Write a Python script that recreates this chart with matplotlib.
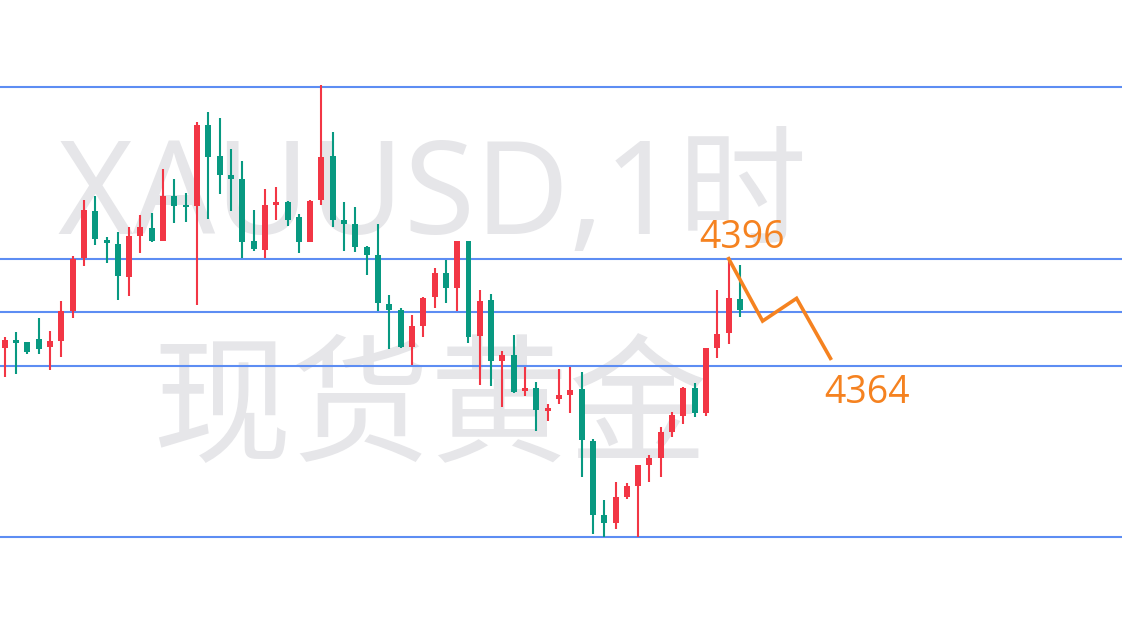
import matplotlib
matplotlib.use("Agg")
import matplotlib.pyplot as plt
import numpy as np

# ---- data ----
opens = [4369.3, 4371.6, 4370.9, 4371.9, 4369.6, 4371.4, 4380.4, 4396.3, 4410.3, 4401.6,
         4400.4, 4390.6, 4402.9, 4405.2, 4401.4, 4414.8, 4412.1, 4411.9, 4436.1, 4426.8,
         4421.1, 4419.9, 4401.3, 4398.7, 4412.2, 4413.1, 4408.6, 4401.1, 4413.7, 4426.8,
         4407.6, 4406.4, 4399.6, 4397.1, 4382.4, 4380.6, 4369.6, 4375.9, 4384.6, 4391.8,
         4387.3, 4401.3, 4372.9, 4383.6, 4365.4, 4367.1, 4356.3, 4357.2, 4350.4, 4354.0,
         4355.2, 4356.9, 4341.4, 4319.1, 4316.8, 4324.6, 4327.8, 4334.1, 4336.3, 4344.1,
         4348.9, 4357.3, 4349.8, 4369.3, 4373.8, 4383.9]
highs = [4372.4, 4373.9, 4370.9, 4378.2, 4374.3, 4383.4, 4396.8, 4413.6, 4414.8, 4402.5,
         4404.0, 4405.5, 4409.1, 4409.6, 4422.9, 4419.9, 4415.6, 4436.9, 4439.9, 4438.2,
         4428.9, 4425.3, 4410.6, 4417.0, 4417.5, 4413.4, 4409.4, 4413.7, 4448.1, 4434.0,
         4413.0, 4411.5, 4399.9, 4406.4, 4385.1, 4381.2, 4379.1, 4384.6, 4393.3, 4395.6,
         4401.3, 4401.3, 4386.6, 4385.4, 4368.3, 4373.1, 4363.6, 4359.0, 4352.5, 4362.9,
         4363.6, 4362.0, 4341.9, 4323.6, 4329.0, 4328.8, 4334.1, 4337.1, 4345.6, 4349.9,
         4357.6, 4358.8, 4369.3, 4386.6, 4396.4, 4394.1]
lows = [4360.6, 4361.4, 4367.3, 4367.4, 4362.6, 4366.6, 4378.3, 4393.9, 4400.2, 4394.8,
        4383.6, 4384.8, 4397.8, 4401.0, 4401.4, 4406.8, 4407.1, 4382.1, 4407.8, 4415.5,
        4410.4, 4396.1, 4398.4, 4396.3, 4407.7, 4405.9, 4397.8, 4401.1, 4412.1, 4405.6,
        4398.4, 4398.0, 4391.2, 4380.4, 4369.0, 4369.3, 4364.1, 4372.6, 4381.2, 4382.8,
        4380.4, 4370.8, 4358.1, 4357.9, 4351.6, 4355.8, 4354.9, 4344.4, 4347.4, 4352.5,
        4349.8, 4330.6, 4313.4, 4312.6, 4314.8, 4323.8, 4312.6, 4328.9, 4330.6, 4342.6,
        4346.4, 4348.6, 4348.9, 4366.1, 4370.3, 4378.6]
closes = [4371.6, 4370.8, 4368.1, 4369.0, 4371.3, 4380.3, 4395.8, 4410.6, 4401.8, 4400.6,
          4390.9, 4402.9, 4405.6, 4401.4, 4414.8, 4411.9, 4411.6, 4436.1, 4426.6, 4421.2,
          4420.0, 4401.1, 4399.0, 4412.1, 4413.0, 4407.6, 4401.1, 4413.4, 4426.5, 4407.7,
          4406.5, 4399.6, 4397.2, 4382.8, 4380.7, 4369.6, 4375.8, 4384.2, 4391.8, 4387.3,
          4401.3, 4372.6, 4383.3, 4365.4, 4367.1, 4356.1, 4357.2, 4350.6, 4351.2, 4355.2,
          4356.6, 4341.6, 4319.1, 4316.8, 4324.6, 4327.8, 4334.1, 4336.3, 4344.1, 4349.1,
          4357.3, 4349.8, 4369.3, 4373.5, 4384.3, 4380.6]

level_lines = [4447.6, 4396.0, 4380.0, 4363.9, 4312.4]

path_x = [64, 67, 70, 73]
path_y = [4396.0, 4377.3, 4384.1, 4366.1]

label_texts = ["4396", "4364"]
label_x = [61.37, 72.45]
label_y = [4399.1, 4352.6]

watermark_lines = ["XAUUSD,1时", "现货黄金"]

# ---- styling ----
UP = "#f23645"
DOWN = "#089981"
BLUE = "#5d8df3"
ORANGE = "#f58220"
WM = "#e6e6e9"

fig = plt.figure(figsize=(11.22, 6.2), dpi=100)
ax = fig.add_axes([0, 0, 1, 1])
ax.set_xlim(-0.4155, 98.77)
ax.set_ylim(4287.61, 4473.61)
ax.axis("off")

# watermark (figure pixel-based placement)
ax.text(432 / 1122, 1 - 234 / 620, watermark_lines[0], transform=fig.transFigure,
        ha="center", va="baseline", fontsize=93, color=WM,
        family=["Noto Sans", "Noto Sans CJK SC"], zorder=0)
ax.text(430 / 1122, 1 - 451 / 620, watermark_lines[1], transform=fig.transFigure,
        ha="center", va="baseline", fontsize=100, color=WM,
        family=["Noto Sans CJK SC"], zorder=0)

# level lines
for lv in level_lines:
    ax.axhline(lv, color=BLUE, lw=1.5, zorder=1)

# candles
x = np.arange(len(opens))
o = np.array(opens); h = np.array(highs); l = np.array(lows); c = np.array(closes)
cols = np.where(c >= o, UP, DOWN)
ax.vlines(x, l, h, colors=cols, lw=1.5, zorder=2)
bottoms = np.minimum(o, c)
heights = np.maximum(np.abs(c - o), 0.6)
ax.bar(x, heights, bottom=bottoms, width=0.53, color=cols, zorder=3, linewidth=0)

# orange projection
ax.plot(path_x, path_y, color=ORANGE, lw=2.6, zorder=4, solid_joinstyle="miter")
for t, tx, ty in zip(label_texts, label_x, label_y):
    ax.text(tx, ty, t, ha="left", va="baseline", fontsize=27, color=ORANGE,
            family="Open Sans", zorder=5)

fig.savefig("out.png", dpi=100)
